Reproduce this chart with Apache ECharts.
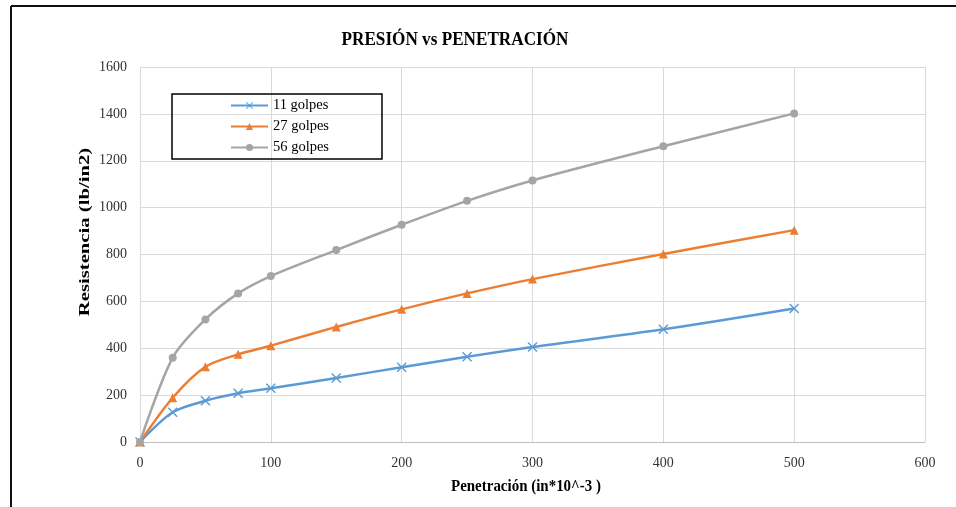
<!DOCTYPE html>
<html>
<head>
<meta charset="utf-8">
<script src="https://cdn.jsdelivr.net/npm/echarts@6/dist/echarts.min.js"></script>
<style>
html,body{margin:0;padding:0;background:#fff;}
#chart{width:956px;height:507px;}
</style>
</head>
<body>
<div id="chart"></div>
<script>
const penetracion = [0, 25, 50, 75, 100, 150, 200, 250, 300, 400, 500];
const golpes11 = [0, 127, 176, 208, 229, 273, 319, 364, 405, 481, 570];
const golpes27 = [0, 189, 321, 374, 411, 491, 566, 634, 695, 802, 904];
const golpes56 = [0, 360, 523, 634, 708, 819, 927, 1029, 1116, 1262, 1402];
const seriesNames = ['11 golpes', '27 golpes', '56 golpes'];
const titleText = 'PRESIÓN vs PENETRACIÓN';
const xName = 'Penetración (in*10^-3 )';
const yName = 'Resistencia (lb/in2)';

const font = 'Liberation Serif';
const xPath = 'path://M0,1L1,0L5,4L9,0L10,1L6,5L10,9L9,10L5,6L1,10L0,9L4,5Z';

function pairs(ys){ return penetracion.map((x,i)=>[x, ys[i]]); }

const chart = echarts.init(document.getElementById('chart'), null, {renderer:'canvas'});
chart.setOption({
  animation:false,
  backgroundColor:'#fff',
  legend:{
    orient:'vertical',
    left:172, top:94,
    borderColor:'#000', borderWidth:1.5,
    padding:[4,53,4,58],
    itemGap:6,
    itemWidth:37, itemHeight:9,
    textStyle:{fontFamily:font, fontSize:14.5, color:'#000'},
    data:seriesNames
  },
  grid:{left:140, right:31, top:67, bottom:65, containLabel:false},
  xAxis:{
    type:'value', min:0, max:600, interval:100,
    axisLine:{show:true, lineStyle:{color:'#bfbfbf', width:1}},
    axisTick:{show:false},
    axisLabel:{fontFamily:font, fontSize:14, color:'#333', margin:14},
    splitLine:{show:true, lineStyle:{color:'#d9d9d9', width:1}}
  },
  yAxis:{
    type:'value', min:0, max:1600, interval:200,
    axisLine:{show:false},
    axisTick:{show:false},
    axisLabel:{fontFamily:font, fontSize:14, color:'#333', margin:13,
      formatter:function(v){ return String(v); }},
    splitLine:{show:true, lineStyle:{color:'#d9d9d9', width:1}}
  },
  series:[
    {name:seriesNames[0], type:'line', smooth:0.3, data:pairs(golpes11),
     symbol:xPath, symbolSize:10, color:'#5B9BD5',
     lineStyle:{width:2.5, color:'#5B9BD5'}, itemStyle:{color:'#5B9BD5'}},
    {name:seriesNames[1], type:'line', smooth:0.3, data:pairs(golpes27),
     symbol:'triangle', symbolSize:9, color:'#ED7D31',
     lineStyle:{width:2.5, color:'#ED7D31'}, itemStyle:{color:'#ED7D31'}},
    {name:seriesNames[2], type:'line', smooth:0.3, data:pairs(golpes56),
     symbol:'circle', symbolSize:8, color:'#A5A5A5',
     lineStyle:{width:2.5, color:'#A5A5A5'}, itemStyle:{color:'#A5A5A5'}}
  ],
  graphic:[
    {type:'text', x:455, y:40, scaleX:0.88,
     style:{text:titleText, x:0, y:0, align:'center', verticalAlign:'middle',
       font:'bold 19.5px "Liberation Serif"', fill:'#000'}},
    {type:'text', x:526, y:487, scaleX:0.88,
     style:{text:xName, x:0, y:0, align:'center', verticalAlign:'middle',
       font:'bold 17px "Liberation Serif"', fill:'#000'}},
    {type:'text', x:85, y:232, rotation:Math.PI/2, scaleX:1.15, scaleY:0.82,
     style:{text:yName, x:0, y:0, align:'center', verticalAlign:'middle',
       font:'bold 18px "Liberation Serif"', fill:'#000'}},
    {type:'line', shape:{x1:11, y1:6, x2:956, y2:6}, style:{stroke:'#111', lineWidth:2}, z:100},
    {type:'line', shape:{x1:11, y1:6, x2:11, y2:507}, style:{stroke:'#111', lineWidth:2}, z:100}
  ]
});
</script>
</body>
</html>
